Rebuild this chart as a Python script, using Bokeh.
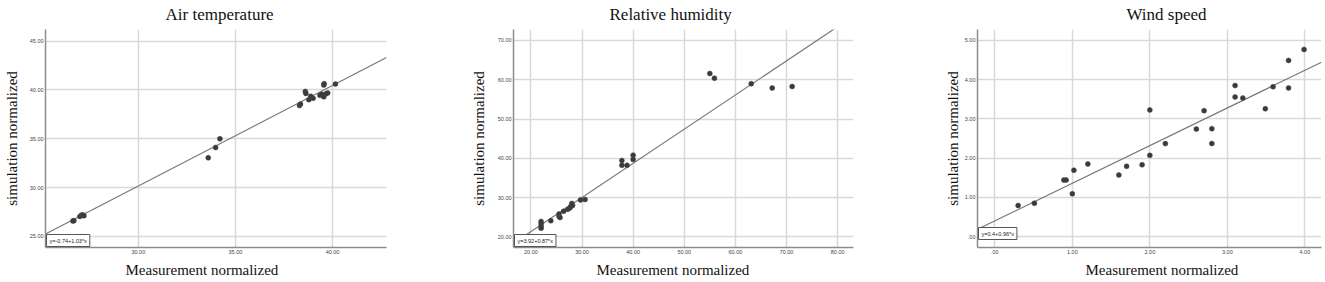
from bokeh.plotting import figure
from bokeh.layouts import row
from bokeh.models import Range1d, FixedTicker, Label, Title
from bokeh.embed import file_html
from bokeh.resources import INLINE

# ---------------- data ----------------
titles = ["Air temperature", "Relative humidity", "Wind speed"]
x_label = "Measurement normalized"
y_label = "simulation normalized"

# Air temperature
at_meas = [26.63, 26.68, 26.99, 27.08, 27.15, 27.2,
           33.6, 33.98, 34.2,
           38.3, 38.35, 38.6, 38.63, 38.78, 38.88, 39.0, 39.35, 39.45,
           39.55, 39.57, 39.55, 39.65, 39.75, 40.15]
at_sim = [26.57, 26.6, 27.04, 27.18, 27.18, 27.1,
          33.05, 34.1, 35.0,
          38.4, 38.55, 39.85, 39.65, 39.0, 39.35, 39.15, 39.45, 39.55,
          40.5, 40.65, 39.3, 39.6, 39.7, 40.6]
at_fit = (-0.74, 1.03)
at_eq = "y=-0.74+1.03*x"
at_xticks = [30, 35, 40]
at_xtick_labels = ["30.00", "35.00", "40.00"]
at_yticks = [25, 30, 35, 40, 45]
at_ytick_labels = ["25.00", "30.00", "35.00", "40.00", "45.00"]

# Relative humidity
rh_meas = [22.0, 22.0, 22.0, 22.0, 23.9, 25.5, 25.5, 25.7, 26.4, 27.2,
           27.6, 27.8, 28.0, 28.15, 29.7, 30.6,
           37.8, 37.8, 38.8, 40.0, 40.0,
           55.0, 55.9, 63.1, 67.2, 71.1]
rh_sim = [23.9, 23.3, 22.7, 22.2, 24.1, 25.8, 25.2, 24.9, 26.5, 27.0,
          27.3, 27.7, 28.5, 28.0, 29.4, 29.5,
          39.4, 38.2, 38.2, 40.8, 39.7,
          61.6, 60.4, 59.0, 57.9, 58.3]
rh_fit = (3.92, 0.87)
rh_eq = "y=3.92+0.87*x"
rh_xticks = [20, 30, 40, 50, 60, 70, 80]
rh_xtick_labels = ["20.00", "30.00", "40.00", "50.00", "60.00", "70.00", "80.00"]
rh_yticks = [20, 30, 40, 50, 60, 70]
rh_ytick_labels = ["20.00", "30.00", "40.00", "50.00", "60.00", "70.00"]

# Wind speed
ws_meas = [0.30, 0.51, 0.89, 0.92, 1.0, 1.02, 1.2, 1.6, 1.7, 1.9, 2.0, 2.0,
           2.2, 2.6, 2.7, 2.8, 2.8, 3.1, 3.1, 3.2, 3.49, 3.59, 3.79, 3.79, 3.99]
ws_sim = [0.79, 0.85, 1.44, 1.44, 1.09, 1.69, 1.85, 1.57, 1.79, 1.83, 3.23, 2.07,
          2.37, 2.74, 3.21, 2.75, 2.37, 3.85, 3.56, 3.53, 3.26, 3.82, 4.49, 3.79, 4.77]
ws_fit = (0.4, 0.96)
ws_eq = "y=0.4+0.96*x"
ws_xticks = [0, 1, 2, 3, 4]
ws_xtick_labels = [".00", "1.00", "2.00", "3.00", "4.00"]
ws_yticks = [0, 1, 2, 3, 4, 5]
ws_ytick_labels = [".00", "1.00", "2.00", "3.00", "4.00", "5.00"]

SERIF = "Liberation Serif"
SANS = "Liberation Sans"


def panel(meas, sim, fit, eq, title, xr, yr, xticks, xlabels, yticks, ylabels,
          bl, fw, br, title_off, xlab_off, ylab_standoff, eq_yoff):
    p = figure(frame_width=fw, frame_height=218,
               min_border_left=bl, min_border_right=br,
               min_border_top=29, min_border_bottom=35,
               x_range=Range1d(*xr), y_range=Range1d(*yr),
               output_backend="svg", toolbar_location=None)
    p.title.visible = False
    p.outline_line_color = None
    p.background_fill_color = "white"
    p.border_fill_color = "white"

    p.add_layout(Title(text=title, align="left", offset=title_off,
                       text_font=SERIF, text_font_size="17px",
                       text_font_style="normal", text_color="#111111",
                       vertical_align="top", standoff=8), "above")
    p.add_layout(Title(text=x_label, align="left", offset=xlab_off,
                       text_font=SERIF, text_font_size="15px",
                       text_font_style="normal", text_color="#111111",
                       vertical_align="bottom", standoff=6), "below")

    for ax, ticks, labels in ((p.xaxis[0], xticks, xlabels), (p.yaxis[0], yticks, ylabels)):
        ax.ticker = FixedTicker(ticks=ticks)
        ax.major_label_overrides = {t: l for t, l in zip(ticks, labels)}
        ax.major_tick_out = 0
        ax.major_tick_in = 0
        ax.minor_tick_out = 0
        ax.minor_tick_in = 0
        ax.major_label_standoff = 2
        ax.major_label_text_font = SANS
        ax.major_label_text_font_size = "5.5px"
        ax.major_label_text_color = "#444444"
        ax.axis_line_color = "#8c8c8c"
        ax.axis_line_width = 1.5
    p.yaxis.axis_label = y_label
    p.yaxis.axis_label_text_font = SERIF
    p.yaxis.axis_label_text_font_size = "15px"
    p.yaxis.axis_label_text_font_style = "normal"
    p.yaxis.axis_label_text_color = "#111111"
    p.yaxis.axis_label_standoff = ylab_standoff

    p.xgrid.ticker = FixedTicker(ticks=xticks)
    p.ygrid.ticker = FixedTicker(ticks=yticks)
    p.grid.grid_line_color = "#d9d9d9"
    p.grid.grid_line_width = 1.5

    b0, b1 = fit
    lx = [xr[0], xr[1]]
    ly = [b0 + b1 * v for v in lx]
    p.line(lx, ly, line_color="#777777", line_width=1.2)

    p.scatter(meas, sim, size=5, fill_color="#3a3a3a", line_color="#4a4a4a",
              line_width=0.5)

    p.add_layout(Label(x=xr[0], y=yr[0], text=eq, x_offset=1, y_offset=eq_yoff,
                       text_font=SANS, text_font_size="5.5px", text_color="#222222",
                       text_align="left", text_baseline="bottom",
                       background_fill_color="white", border_line_color="#555555",
                       border_line_width=1, padding=3))
    return p


p1 = panel(at_meas, at_sim, at_fit, at_eq, titles[0], (25.22, 42.78), (23.85, 46.2),
           at_xticks, at_xtick_labels, at_yticks, at_ytick_labels,
           43, 341, 58, 120, 80, 7, 1)
p2 = panel(rh_meas, rh_sim, rh_fit, rh_eq, titles[1], (16.6, 83.1), (17.27, 72.8),
           rh_xticks, rh_xtick_labels, rh_yticks, rh_ytick_labels,
           69, 340, 33, 96, 83, 8, 1)
p3 = panel(ws_meas, ws_sim, ws_fit, ws_eq, titles[2], (-0.224, 4.215), (-0.28, 5.28),
           ws_xticks, ws_xtick_labels, ws_yticks, ws_ytick_labels,
           91, 344, 6, 149, 108, 1, 8)

layout = row(p1, p2, p3)
open("out.html", "w").write(file_html(layout, INLINE))
